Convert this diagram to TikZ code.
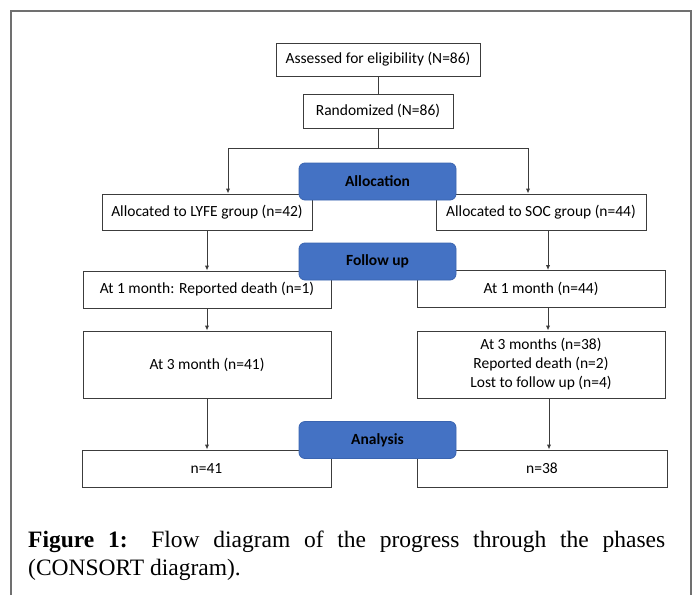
\documentclass[tikz,border=0pt]{standalone}
\usepackage{fontspec}
\setmainfont{Carlito}
\newfontfamily\capfont{Liberation Serif}
\usetikzlibrary{arrows.meta}
\definecolor{boxline}{HTML}{3C3C3C}
\definecolor{phasefill}{HTML}{4472C4}
\definecolor{phaseline}{HTML}{3A64B0}
\definecolor{framecol}{HTML}{707070}
\tikzset{
  wbox/.style={draw=boxline, line width=1pt, fill=white, inner sep=0pt, align=center,
    font=\fontsize{15.5}{19}\selectfont},
  phase/.style={draw=phaseline, line width=0.8pt, fill=phasefill, rounded corners=6pt,
    minimum width=157pt, minimum height=37pt, inner sep=0pt,
    font=\fontsize{15.5}{17}\selectfont\bfseries},
  conn/.style={draw=boxline, line width=1pt},
  arr/.style={conn, -{Latex[length=5pt,width=4.5pt]}}
}
\begin{document}
\begin{tikzpicture}[x=1pt,y=-1pt]
\useasboundingbox (0,0) rectangle (694,595);
% frame
\draw[framecol, line width=1.3pt] (11,595) -- (11,11) -- (691,11) -- (691,595);
% boxes
\node[wbox, minimum width=204pt, minimum height=33pt] (assess) at (378,59.5) {Assessed for eligibility (N=86)};
\node[wbox, minimum width=150pt, minimum height=34pt] (rand) at (378,111) {Randomized (N=86)};
\node[wbox, minimum width=210pt, minimum height=36pt] (lyfe) at (207,212) {Allocated to LYFE group (n=42)};
\node[wbox, minimum width=210pt, minimum height=36pt] (soc) at (541,212) {Allocated to SOC group (n=44)};
\node[wbox, minimum width=248pt, minimum height=37pt] (m1L) at (207,289.5) {At 1 month: Reported death (n=1)};
\node[wbox, minimum width=248pt, minimum height=37pt] (m1R) at (541,289) {At 1 month (n=44)};
\node[wbox, minimum width=248pt, minimum height=67pt] (m3L) at (207,364.5) {At 3 month (n=41)};
\node[wbox, minimum width=248pt, minimum height=67pt] (m3R) at (541,364.5) {At 3 months (n=38)\\Reported death (n=2)\\Lost to follow up (n=4)};
\node[wbox, minimum width=249pt, minimum height=37pt] (nL) at (206.5,468.5) {n=41};
\node[wbox, minimum width=250pt, minimum height=37pt] (nR) at (542,468.5) {n=38};
% phase labels
\node[phase] (alloc) at (377.5,181.5) {Allocation};
\node[phase] (follow) at (377.5,261.5) {Follow up};
\node[phase] (analysis) at (377.5,440) {Analysis};
% connectors
\coordinate (br) at (378,148);
\draw[conn] (assess) -- (rand);
\draw[conn] (rand) -- (br);
\draw[arr] (br) -| ([xshift=21pt]lyfe.north);
\draw[arr] (br) -| ([xshift=-13pt]soc.north);
\draw[arr] (lyfe.south) -- (m1L.north);
\draw[arr] (m1L) -- (m3L);
\draw[arr] (m3L) -- (m3L |- nL.north);
\draw[arr] ([xshift=7pt]soc.south) -- ([xshift=7pt]soc.south |- m1R.north);
\draw[arr] (m1R.south -| 548,0) -- (m3R.north -| 548,0);
\draw[arr] (m3R.south -| 549,0) -- (nR.north -| 549,0);
% caption
\node[anchor=north west, text width=637pt, inner sep=0pt, align=justify,
  font=\capfont\fontsize{23.5}{28}\selectfont] (cap) at (28,531)
  {\textbf{Figure 1:} Flow diagram of the progress through the phases\linebreak (CONSORT diagram).};
\end{tikzpicture}
\end{document}
